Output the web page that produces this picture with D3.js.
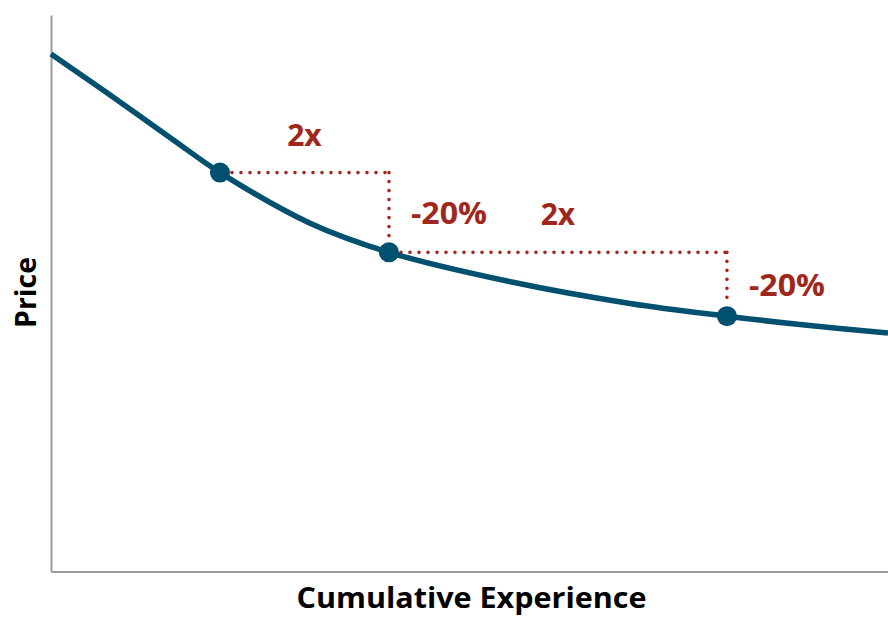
<!DOCTYPE html>
<html>
<head>
<meta charset="utf-8">
<script src="https://cdn.jsdelivr.net/npm/d3@7"></script>
<style>
  html, body { margin: 0; padding: 0; background: #ffffff; }
  svg { display: block; }
  text { font-family: "Open Sans", Lato, "Noto Sans", sans-serif; font-weight: 700; }
</style>
</head>
<body>
<svg id="chart" width="888" height="618"></svg>
<script>
// Experience curve: price falls 20% each time cumulative experience doubles
const curveExperience = [0, 0.331, 0.722, 1, 1.533, 2, 2.734, 3.426, 4, 4.432, 4.953];
const curvePrice      = [1.2975, 1.20, 1.0825, 1.0, 0.873, 0.8, 0.725, 0.672, 0.64, 0.619, 0.598];

// Highlighted milestones on the curve
const markerExperience = [1, 2, 4];
const markerPrice      = [1.0, 0.8, 0.64];

// Step annotations between consecutive milestones
const stepLabelsX = ["2x", "2x"];
const stepLabelsY = ["-20%", "-20%"];

const axisTitleX = "Cumulative Experience";
const axisTitleY = "Price";

const svg = d3.select("#chart");
const W = 888, H = 618;
const margin = { left: 51, right: 0, top: 15, bottom: 46 };

const x = d3.scaleLinear().domain([0, 4.953]).range([margin.left, W - margin.right]);
const y = d3.scaleLinear().domain([0, 1.395]).range([H - margin.bottom - 0.5, margin.top]);

const navy = "#02506f";
const red = "#a1261b";
const gray = "#9a9a9a";

// Axes: plain lines, no ticks
const gx = svg.append("g")
  .attr("transform", `translate(0,${y(0)})`)
  .call(d3.axisBottom(x).tickValues([]).tickSizeOuter(0));
const gy = svg.append("g")
  .attr("transform", `translate(${x(0)},0)`)
  .call(d3.axisLeft(y).tickValues([]).tickSizeOuter(0));
[gx, gy].forEach(g => g.select(".domain").attr("stroke", gray).attr("stroke-width", 2));

// Dotted step guides: across to the next doubling, then down to its price
const guide = svg.append("g")
  .attr("fill", "none")
  .attr("stroke", red)
  .attr("stroke-width", 3.6)
  .attr("stroke-linecap", "round")
  .attr("stroke-dasharray", "0 9");
for (let i = 0; i < markerExperience.length - 1; i++) {
  const x0 = x(markerExperience[i]), y0 = y(markerPrice[i]);
  const x1 = x(markerExperience[i + 1]), y1 = y(markerPrice[i + 1]);
  guide.append("path").attr("d", `M${x0 + 12},${y0}H${x1}`);
  guide.append("path").attr("d", `M${x1},${y0}V${y1 - 12}`);
}

// Experience curve
const line = d3.line()
  .x((d, i) => x(curveExperience[i]))
  .y(d => y(d))
  .curve(d3.curveCatmullRom.alpha(0.5));
svg.append("path")
  .datum(curvePrice)
  .attr("d", line)
  .attr("fill", "none")
  .attr("stroke", navy)
  .attr("stroke-width", 5.5);

// Milestone markers
svg.append("g").selectAll("circle")
  .data(markerExperience)
  .join("circle")
  .attr("cx", d => x(d))
  .attr("cy", (d, i) => y(markerPrice[i]))
  .attr("r", 10)
  .attr("fill", navy);

// Step labels
const labels = svg.append("g").attr("fill", red).attr("font-size", 30);
stepLabelsX.forEach((t, i) => {
  const xm = (x(markerExperience[i]) + x(markerExperience[i + 1])) / 2;
  labels.append("text")
    .attr("x", xm).attr("y", y(markerPrice[i]) - 27)
    .attr("text-anchor", "middle")
    .text(t);
});
stepLabelsY.forEach((t, i) => {
  const ym = (y(markerPrice[i]) + y(markerPrice[i + 1])) / 2;
  labels.append("text")
    .attr("x", x(markerExperience[i + 1]) + 22).attr("y", ym + 12)
    .attr("textLength", 76)
    .attr("lengthAdjust", "spacingAndGlyphs")
    .text(t);
});

// Axis titles
svg.append("text")
  .attr("x", (x.range()[0] + x.range()[1]) / 2 + 2)
  .attr("y", 608)
  .attr("text-anchor", "middle")
  .attr("font-size", 29)
  .attr("textLength", 350)
  .attr("lengthAdjust", "spacingAndGlyphs")
  .attr("fill", "#000")
  .text(axisTitleX);
svg.append("text")
  .attr("transform", `translate(36,${292.5}) rotate(-90)`)
  .attr("text-anchor", "middle")
  .attr("font-size", 29)
  .attr("textLength", 71)
  .attr("lengthAdjust", "spacingAndGlyphs")
  .attr("fill", "#000")
  .text(axisTitleY);
</script>
</body>
</html>
